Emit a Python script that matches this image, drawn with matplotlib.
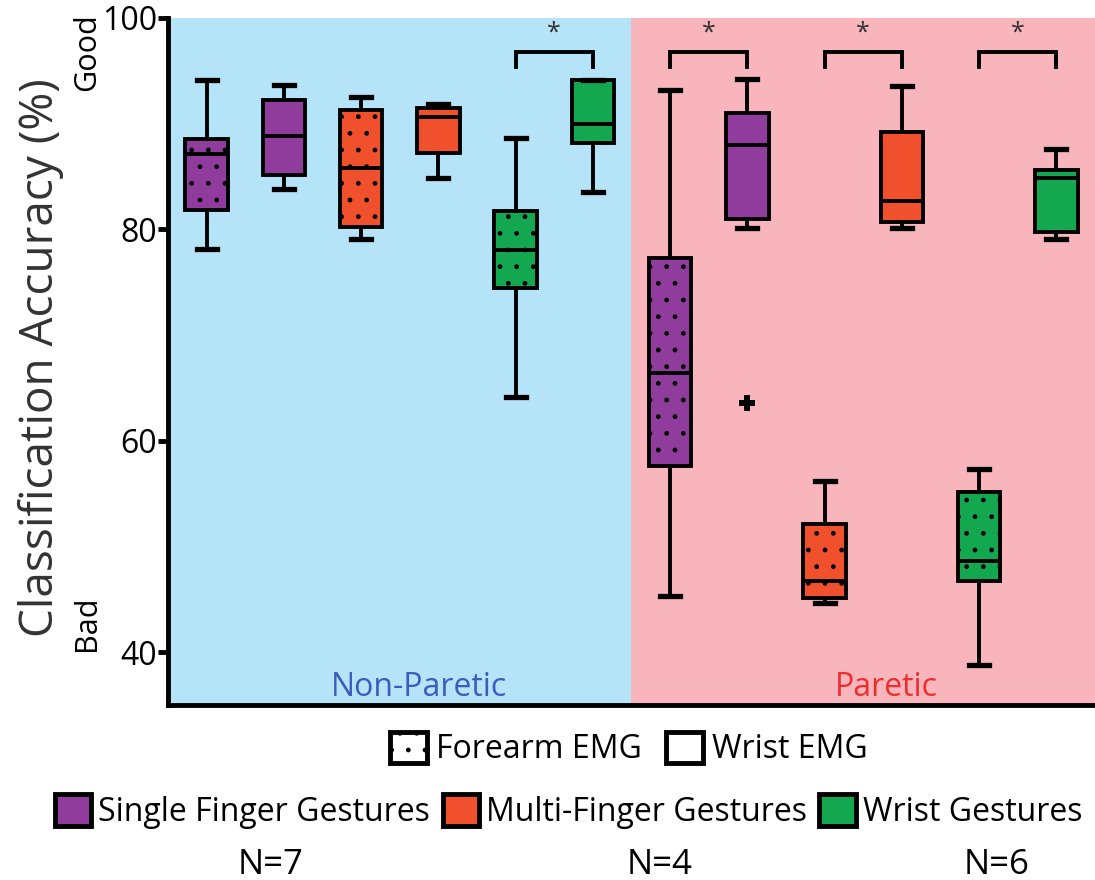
import matplotlib.pyplot as plt
from matplotlib.patches import Patch

plt.rcParams['font.family'] = ['Open Sans', 'DejaVu Sans']
plt.rcParams['hatch.linewidth'] = 1.0
plt.rcParams['hatch.color'] = 'black'

# box statistics, ordered: non-paretic (6 boxes) then paretic (6 boxes)
# within each gesture: forearm EMG first, wrist EMG second
positions = [1, 2, 3, 4, 5, 6, 7, 8, 9, 10, 11, 12]
whisker_low = [78.1, 83.8, 79.1, 84.9, 64.1, 83.5, 45.3, 80.1, 44.6, 80.1, 38.8, 79.1]
quart_low = [81.8, 85.1, 80.2, 87.2, 74.4, 88.2, 57.6, 81.0, 45.1, 80.7, 46.7, 79.7]
medians = [87.1, 88.8, 85.8, 90.6, 78.0, 90.0, 66.4, 88.0, 46.7, 82.7, 48.6, 84.9]
quart_high = [88.5, 92.2, 91.3, 91.5, 81.7, 94.1, 77.3, 91.0, 52.1, 89.2, 55.1, 85.6]
whisker_high = [94.1, 93.7, 92.5, 91.9, 88.6, 94.1, 93.2, 94.2, 56.2, 93.6, 57.3, 87.6]
outliers = [[], [], [], [], [], [], [], [63.6], [], [], [], []]

gestures = ['single', 'single', 'multi', 'multi', 'wrist', 'wrist'] * 2
forearm = [True, False] * 6

# significant pairs (left box, right box)
sig_pairs = [(5, 6), (7, 8), (9, 10), (11, 12)]

gesture_colors = {'single': '#8F3C9D', 'multi': '#F0502C', 'wrist': '#13A850'}
gesture_names = {'single': 'Single Finger Gestures',
                 'multi': 'Multi-Finger Gestures',
                 'wrist': 'Wrist Gestures'}
group_sizes = ['N=7', 'N=4', 'N=6']

fig = plt.figure(figsize=(10.95, 8.8), dpi=100)
ax = fig.add_axes([0.1534, 0.199, 0.8466, 0.7806])

ax.axvspan(0.5, 6.5, color='#B5E3F8', zorder=0, lw=0)
ax.axvspan(6.5, 12.5, color='#F8B5BC', zorder=0, lw=0)

stats = []
for i in range(len(positions)):
    stats.append({'whislo': whisker_low[i], 'q1': quart_low[i], 'med': medians[i],
                  'q3': quart_high[i], 'whishi': whisker_high[i], 'fliers': outliers[i]})

bp = ax.bxp(stats, positions=positions, widths=0.55, capwidths=0.26,
            patch_artist=True, showfliers=True,
            boxprops=dict(edgecolor='black', linewidth=2.8),
            medianprops=dict(color='black', linewidth=2.8),
            whiskerprops=dict(color='black', linewidth=2.8),
            capprops=dict(color='black', linewidth=3.8),
            flierprops=dict(marker='P', markersize=12, markerfacecolor='black',
                            markeredgecolor='black', markeredgewidth=0))
for box, g, fa in zip(bp['boxes'], gestures, forearm):
    box.set_facecolor(gesture_colors[g])
    if fa:
        box.set_hatch('.')

# significance brackets
for a, b in sig_pairs:
    ax.plot([a, a, b, b], [95.4, 96.8, 96.8, 95.4], color='black', lw=2.8,
            solid_joinstyle='miter')
    ax.text((a + b) / 2, 98.6, '*', ha='center', va='center', fontsize=18, color='#333333')

ax.set_xlim(0.5, 12.5)
ax.set_ylim(35, 100)
ax.set_yticks([40, 60, 80, 100])
ax.set_xticks([])
ax.tick_params(axis='y', direction='out', length=7, width=3.5, labelsize=23, pad=1)
for side in ['top', 'right']:
    ax.spines[side].set_visible(False)
for side in ['left', 'bottom']:
    ax.spines[side].set_linewidth(3.5)

ax.set_ylabel('Classification Accuracy (%)', fontsize=33, color='#333333')
ax.yaxis.set_label_coords(-0.112, 0.505)

ytrans = ax.get_yaxis_transform()
ax.text(-0.087, 96.8, 'Good', transform=ytrans, rotation=90, ha='center', va='center', fontsize=22)
ax.text(-0.087, 42.7, 'Bad', transform=ytrans, rotation=90, ha='center', va='center', fontsize=22)

ax.text(3.75, 36.6, 'Non-Paretic', ha='center', va='center', fontsize=23, color='#3E5BBE')
ax.text(9.8, 36.6, 'Paretic', ha='center', va='center', fontsize=23, color='#EE2E2E')

# legends below the axes
emg_handles = [Patch(facecolor='white', edgecolor='black', lw=3.5, hatch='.', label='Forearm EMG'),
               Patch(facecolor='white', edgecolor='black', lw=3.5, label='Wrist EMG')]
fig.legend(handles=emg_handles, loc='center left', bbox_to_anchor=(0.356, 0.149),
           ncol=2, frameon=False, fontsize=23, handlelength=1.15, handleheight=1.15,
           handletextpad=0.3, columnspacing=0.75, borderpad=0, borderaxespad=0)

gesture_handles = [Patch(facecolor=gesture_colors[g], edgecolor='black', lw=3.5, label=gesture_names[g])
                   for g in ['single', 'multi', 'wrist']]
fig.legend(handles=gesture_handles, loc='center left', bbox_to_anchor=(0.05, 0.078),
           ncol=3, frameon=False, fontsize=23, handlelength=1.15, handleheight=1.15,
           handletextpad=0.2, columnspacing=0.4, borderpad=0, borderaxespad=0)

for xpos, label in zip([0.247, 0.602, 0.91], group_sizes):
    fig.text(xpos, 0.017, label, ha='center', va='center', fontsize=25)

fig.savefig('out.png', dpi=100)
